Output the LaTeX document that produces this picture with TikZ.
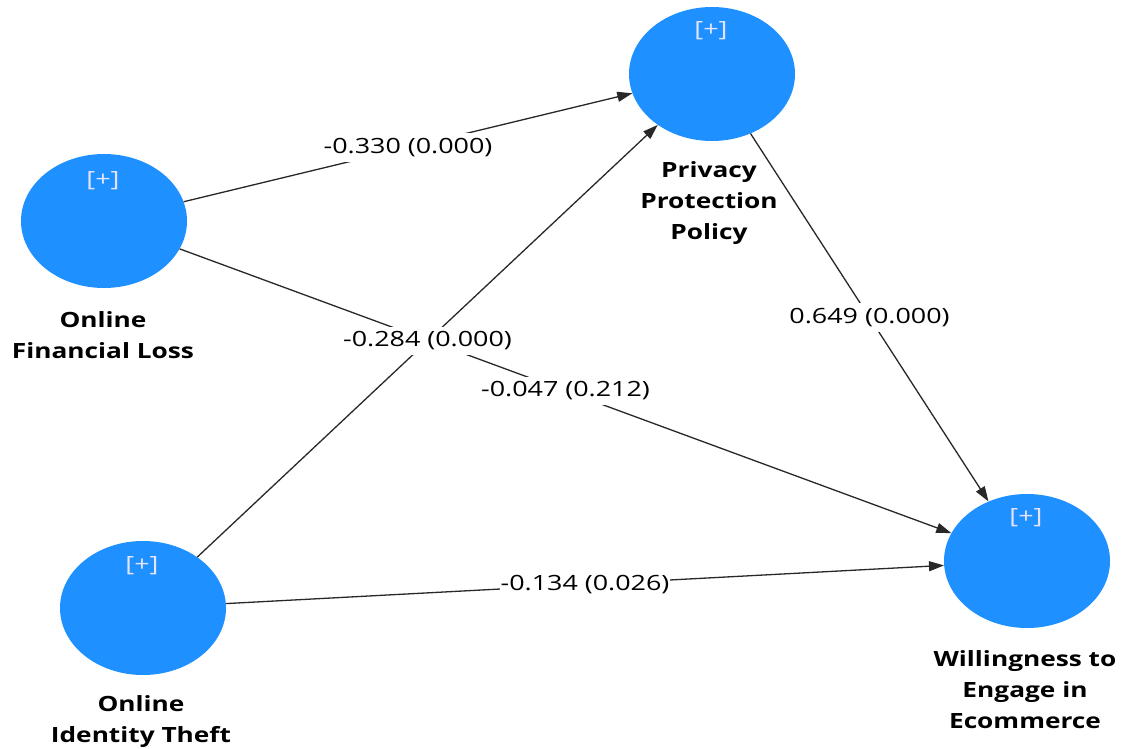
\documentclass[tikz,border=0pt]{standalone}
\usepackage{fontspec}
\setmainfont{Open Sans}
\newfontfamily\edgefont{Open Sans}[FakeStretch=1.28]
\newfontfamily\namefont{Open Sans}[FakeStretch=1.25]
\usetikzlibrary{shapes.geometric,arrows.meta}
\definecolor{nodeblue}{RGB}{30,144,255}
\definecolor{plusc}{RGB}{228,228,255}
\definecolor{edgegray}{RGB}{40,40,40}
\begin{document}
\begin{tikzpicture}[x=1pt,y=-1pt,
 latent/.style={ellipse, fill=nodeblue, draw=none, minimum width=166pt, minimum height=134pt, inner sep=0pt},
 plustext/.style={text=plusc, font=\edgefont\fontsize{21}{24}\selectfont, inner sep=0pt},
 lvname/.style={align=center, font=\namefont\bfseries\fontsize{21}{31}\selectfont, text=black, inner sep=0pt},
 pathline/.style={draw=edgegray, line width=1.3pt, -{Triangle[length=15pt,width=10pt]}},
 coef/.style={fill=white, inner xsep=1pt, inner ysep=5pt, font=\edgefont\fontsize{21}{24}\selectfont, text=black, midway}
]
\useasboundingbox (0,0) rectangle (1125,749);
\fill[white] (0,0) rectangle (1125,749);

\node[latent] (PPP) at (712,74) {};
\node[latent] (OFL) at (104,221) {};
\node[latent] (OIT) at (143,608) {};
\node[latent] (WEE) at (1027,561) {};

\node[plustext] (PPPp) at (711,31) {[+]};
\node[plustext] (OFLp) at (103,181) {[+]};
\node[plustext] (OITp) at (142,566) {[+]};
\node[plustext] (WEEp) at (1026,518) {[+]};

\node[lvname] (PPPn) at (709,203) {Privacy\\Protection\\Policy};
\node[lvname] (OFLn) at (103,335) {Online\\Financial Loss};
\node[lvname] (OITn) at (141,722) {Online\\Identity Theft};
\node[lvname] (WEEn) at (1025,690) {Willingness to\\Engage in\\Ecommerce};

\draw[pathline] (OFL) -- node[coef] {-0.330 (0.000)} (PPP);
\draw[pathline] (OFL) -- node[coef] {-0.047 (0.212)} (WEE);
\draw[pathline] (OIT) -- node[coef] {-0.284 (0.000)} (PPP);
\draw[pathline] (PPP) -- node[coef] {0.649 (0.000)} (WEE);
\draw[pathline] (OIT) -- node[coef] {-0.134 (0.026)} (WEE);
\end{tikzpicture}
\end{document}
